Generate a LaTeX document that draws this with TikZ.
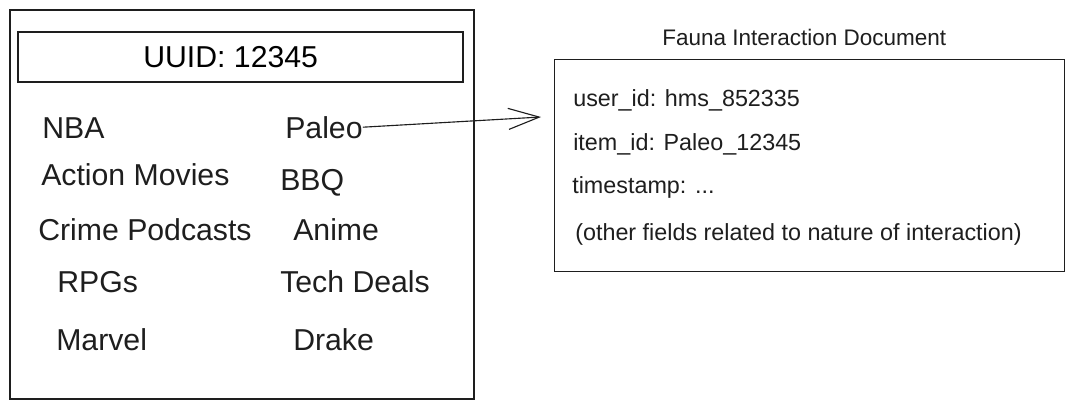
\documentclass[tikz,border=0pt]{standalone}
\usepackage{fontspec}
\setmainfont{Liberation Sans}
\usetikzlibrary{arrows.meta,positioning}
\definecolor{inkdark}{HTML}{1E1E1E}

\begin{document}
\begin{tikzpicture}[x=0.025cm, y=-0.025cm,
    frame/.style={draw=inkdark, line width=0.9pt},
    item/.style={anchor=base west, inner sep=0pt, text=inkdark, font=\fontsize{21.5}{26}\selectfont},
    field/.style={anchor=base west, inner sep=0pt, text=inkdark, font=\fontsize{16.6}{20}\selectfont},
    idbox/.style={frame, minimum width=11.125cm, minimum height=1.25cm, inner sep=0pt, font=\fontsize{21.5}{26}\selectfont},
    docbox/.style={frame, minimum width=12.75cm, minimum height=5.3cm, inner sep=0pt}
  ]
  \useasboundingbox (0,0) rectangle (1076,408);

  % User profile
  \draw[frame] (10,10) rectangle (474,399);
  \node[idbox] (uuid) at (240.5,57) {UUID: 12345\hspace*{14pt}};

  % Interests, left column
  \node[item] (nba) at (42,138) {NBA};
  \node[item] (action) at (41,185) {Action Movies};
  \node[item] (crime) at (38,240) {Crime Podcasts};
  \node[item] (rpgs) at (57,292) {RPGs};
  \node[item] (marvel) at (56,350) {Marvel};

  % Interests, right column
  \node[item] (paleo) at (285,138) {Paleo};
  \node[item] (bbq) at (280,190) {BBQ};
  \node[item] (anime) at (293,240) {Anime};
  \node[item] (tech) at (280,292) {Tech Deals};
  \node[item] (drake) at (293,350) {Drake};

  % Interaction document
  \node[docbox] (doc) at (809.5,165.5) {};
  \node[field, font=\fontsize{16}{19}\selectfont] (doctitle) at (662,45) {Fauna Interaction Document};
  \node[field] (userid) at (573,106) {user\_id: hms\_852335};
  \node[field] (itemid) at (573,150) {item\_id: Paleo\_12345};
  \node[field] (stamp) at (572,193) {timestamp: ...};
  \node[field] (other) at (575,240) {(other fields related to nature of interaction)};

  % Link from interest to document
  \coordinate (tip) at (541,117);
  \draw[inkdark, line width=0.8pt, -{Straight Barb[length=22pt, width=15pt]}] (paleo.east) -- (tip);
\end{tikzpicture}
\end{document}
